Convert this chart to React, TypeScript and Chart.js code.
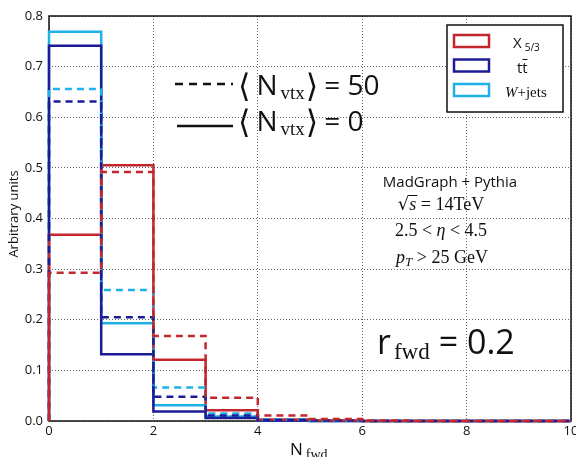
import React, { useEffect, useRef } from 'react';
import { Chart, registerables } from 'chart.js';
Chart.register(...registerables);

// Bin edges of N_fwd histogram
const binEdges = [0, 1, 2, 3, 4, 5, 6, 7, 8, 9, 10];
// X_{5/3}
const x53Pu0 = [0.368, 0.505, 0.121, 0.021, 0.003, 0.001, 0.0, 0.0, 0.0, 0.0];
const x53Pu50 = [0.293, 0.492, 0.168, 0.046, 0.011, 0.004, 0.001, 0.0, 0.0, 0.0];
// ttbar
const ttPu0 = [0.741, 0.132, 0.019, 0.006, 0.001, 0.0, 0.0, 0.0, 0.0, 0.0];
const ttPu50 = [0.631, 0.205, 0.048, 0.011, 0.002, 0.001, 0.0, 0.0, 0.0, 0.0];
// W+jets
const wjPu0 = [0.769, 0.193, 0.031, 0.009, 0.001, 0.0, 0.0, 0.0, 0.0, 0.0];
const wjPu50 = [0.656, 0.259, 0.066, 0.015, 0.003, 0.001, 0.0, 0.0, 0.0, 0.0];

const xTicks = [0, 2, 4, 6, 8, 10];
const yTicks = [0, 0.1, 0.2, 0.3, 0.4, 0.5, 0.6, 0.7, 0.8];

const RED = '#c3262c';
const BLUE = '#1c1d96';
const CYAN = '#1eb1e8';

const SANS = '"Open Sans", "Liberation Sans", sans-serif';
const SERIF = '"Liberation Serif", "DejaVu Serif", serif';

function histPoints(vals: number[]) {
  const pts = [{ x: binEdges[0], y: 0 }];
  vals.forEach((v, i) => pts.push({ x: binEdges[i], y: v }));
  pts.push({ x: binEdges[binEdges.length - 1], y: vals[vals.length - 1] });
  return pts;
}

type Run = { t: string; f: string; dy?: number; gap?: number };

function drawRuns(ctx: CanvasRenderingContext2D, x: number, y: number, runs: Run[], center = false) {
  ctx.save();
  ctx.textBaseline = 'alphabetic';
  ctx.textAlign = 'left';
  let total = 0;
  runs.forEach((r) => {
    ctx.font = r.f;
    total += ctx.measureText(r.t).width + (r.gap || 0);
  });
  let cx = center ? x - total / 2 : x;
  const xs: number[] = [];
  runs.forEach((r) => {
    ctx.font = r.f;
    cx += r.gap || 0;
    xs.push(cx);
    const w = ctx.measureText(r.t).width;
    ctx.fillText(r.t, cx, y + (r.dy || 0));
    cx += w;
  });
  ctx.restore();
  return xs;
}

const annotations = {
  id: 'annotations',
  beforeDatasetsDraw(chart: any) {
    const { ctx, chartArea: a } = chart;
    ctx.save();
    ctx.strokeStyle = '#111';
    ctx.lineWidth = 1.5;
    ctx.strokeRect(a.left, a.top, a.right - a.left, a.bottom - a.top);
    ctx.restore();
  },
  afterDraw(chart: any) {
    const ctx: CanvasRenderingContext2D = chart.ctx;
    ctx.save();
    ctx.fillStyle = '#111';
    // axis titles
    ctx.save();
    ctx.translate(14, 214);
    ctx.rotate(-Math.PI / 2);
    ctx.font = `13px ${SANS}`;
    ctx.textAlign = 'center';
    ctx.textBaseline = 'middle';
    ctx.fillText('Arbitrary units', 0, 0);
    ctx.restore();
    drawRuns(ctx, 290, 455, [
      { t: 'N', f: `17px ${SANS}` },
      { t: 'fwd', f: `14px ${SERIF}`, dy: 4, gap: 3 },
    ]);

    // legend
    ctx.save();
    ctx.fillStyle = '#fff';
    ctx.fillRect(447, 25, 116, 87);
    ctx.strokeStyle = '#111';
    ctx.lineWidth = 1.5;
    ctx.strokeRect(447, 25, 116, 87);
    const sw = [RED, BLUE, CYAN];
    sw.forEach((c, i) => {
      ctx.strokeStyle = c;
      ctx.lineWidth = 2.5;
      ctx.strokeRect(454, 35 + i * 24.5, 35, 12);
    });
    ctx.restore();
    ctx.fillStyle = '#111';
    drawRuns(ctx, 513, 48, [
      { t: 'X', f: `15px ${SANS}` },
      { t: '5/3', f: `10px ${SANS}`, dy: 3, gap: 3 },
    ]);
    drawRuns(ctx, 517, 73, [{ t: 'tt', f: `15px ${SANS}` }]);
    ctx.save();
    ctx.strokeStyle = '#111';
    ctx.lineWidth = 1;
    ctx.beginPath();
    ctx.moveTo(522.5, 59.5);
    ctx.lineTo(527.5, 59.5);
    ctx.stroke();
    ctx.restore();
    drawRuns(ctx, 505, 97, [
      { t: 'W', f: `italic 15px ${SERIF}` },
      { t: '+jets', f: `15px ${SERIF}` },
    ]);

    // pile-up annotation
    ctx.save();
    ctx.strokeStyle = '#111';
    ctx.lineWidth = 2.5;
    ctx.setLineDash([8, 6]);
    ctx.beginPath();
    ctx.moveTo(175, 84);
    ctx.lineTo(233, 84);
    ctx.stroke();
    ctx.setLineDash([]);
    ctx.beginPath();
    ctx.moveTo(177, 126);
    ctx.lineTo(233, 126);
    ctx.stroke();
    ctx.restore();
    const vtx = (base: number, val: string) =>
      drawRuns(ctx, 238, base, [
        { t: '\u27E8', f: `32px "DejaVu Serif", ${SERIF}`, dy: 2 },
        { t: 'N', f: `28px ${SANS}`, gap: 6 },
        { t: 'vtx', f: `19px ${SERIF}`, dy: 4, gap: 3 },
        { t: '\u27E9', f: `32px "DejaVu Serif", ${SERIF}`, dy: 2, gap: 1 },
        { t: '= ' + val, f: `28px ${SANS}`, gap: 6 },
      ]);
    vtx(95, '50');
    vtx(131, '0');

    // generator / cuts text
    drawRuns(ctx, 450, 187, [{ t: 'MadGraph + Pythia', f: `15px ${SANS}` }], true);
    const xs = drawRuns(ctx, 441, 210, [
      { t: '\u221A', f: `18px "DejaVu Serif", ${SERIF}` },
      { t: 's', f: `italic 18px ${SERIF}` },
      { t: ' = 14TeV', f: `18px ${SERIF}` },
    ], true);
    ctx.save();
    ctx.strokeStyle = '#111';
    ctx.lineWidth = 1;
    ctx.beginPath();
    ctx.moveTo(xs[1] - 1, 195.5);
    ctx.lineTo(xs[2] + 1, 195.5);
    ctx.stroke();
    ctx.restore();
    drawRuns(ctx, 441, 236, [
      { t: '2.5 < ', f: `18px ${SERIF}` },
      { t: '\u03B7', f: `italic 18px ${SERIF}` },
      { t: ' < 4.5', f: `18px ${SERIF}` },
    ], true);
    drawRuns(ctx, 442, 263, [
      { t: 'p', f: `italic 18px ${SERIF}` },
      { t: 'T', f: `italic 13px ${SERIF}`, dy: 3 },
      { t: ' > 25 GeV', f: `18px ${SERIF}` },
    ], true);

    drawRuns(ctx, 377, 354, [
      { t: 'r', f: `34px ${SANS}` },
      { t: 'fwd', f: `23px ${SERIF}`, dy: 5, gap: 3 },
      { t: '= 0.2', f: `34px ${SANS}`, gap: 9 },
    ]);
    ctx.restore();
  },
};

export default function App() {
  const ref = useRef<HTMLCanvasElement>(null);
  useEffect(() => {
    if (!ref.current) return;
    const mk = (label: string, vals: number[], color: string, dashed: boolean) => ({
      label,
      data: histPoints(vals),
      borderColor: color,
      backgroundColor: color,
      borderWidth: 2.5,
      borderDash: dashed ? [7, 5] : [],
      stepped: 'before' as const,
      pointRadius: 0,
      fill: false,
      clip: false as any,
    });
    const gridStyle = { color: '#666', lineWidth: 1, drawTicks: false };
    const chart = new Chart(ref.current, {
      type: 'line',
      data: {
        datasets: [
          mk('X5/3 <Nvtx>=50', x53Pu50, RED, true),
          mk('tt <Nvtx>=50', ttPu50, BLUE, true),
          mk('W+jets <Nvtx>=50', wjPu50, CYAN, true),
          mk('X5/3 <Nvtx>=0', x53Pu0, RED, false),
          mk('tt <Nvtx>=0', ttPu0, BLUE, false),
          mk('W+jets <Nvtx>=0', wjPu0, CYAN, false),
        ] as any,
      },
      options: {
        responsive: false,
        animation: false,
        layout: { padding: { top: 16, right: 5, left: 0, bottom: 0 } },
        plugins: { legend: { display: false }, tooltip: { enabled: false } },
        scales: {
          x: {
            type: 'linear',
            min: 0,
            max: 10,
            afterBuildTicks: (s: any) => {
              s.ticks = xTicks.map((v) => ({ value: v }));
            },
            afterFit: (s: any) => {
              s.height = 36;
              s.paddingRight = 0;
              s.paddingLeft = 0;
            },
            ticks: {
              font: { family: SANS, size: 13 },
              color: '#111',
              padding: 2,
              maxRotation: 0,
              callback: (v: any) => String(v),
            },
            grid: gridStyle,
            border: { display: false, dash: [1, 2] },
          },
          y: {
            type: 'linear',
            min: 0,
            max: 0.8,
            afterBuildTicks: (s: any) => {
              s.ticks = yTicks.map((v) => ({ value: v }));
            },
            afterFit: (s: any) => {
              s.width = 49;
              s.paddingTop = 0;
              s.paddingBottom = 0;
            },
            ticks: {
              font: { family: SANS, size: 13 },
              color: '#111',
              padding: 6,
              callback: (v: any) => Number(v).toFixed(1),
            },
            grid: gridStyle,
            border: { display: false, dash: [1, 2] },
          },
        },
      },
      plugins: [annotations],
    });
    return () => chart.destroy();
  }, []);
  return (
    <div style={{ position: 'absolute', left: 0, top: 0, width: 576, height: 457, background: '#fff' }}>
      <canvas ref={ref} width={576} height={457} />
    </div>
  );
}
